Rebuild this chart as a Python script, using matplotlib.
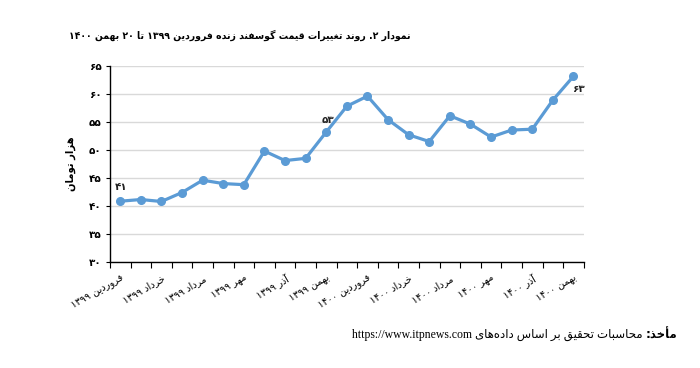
import re
import matplotlib
matplotlib.use("Agg")
import matplotlib.pyplot as plt
import numpy as np

# ---- data ----
months = ["فروردین ۱۳۹۹", "اردیبهشت ۱۳۹۹", "خرداد ۱۳۹۹", "تیر ۱۳۹۹", "مرداد ۱۳۹۹",
          "شهریور ۱۳۹۹", "مهر ۱۳۹۹", "آبان ۱۳۹۹", "آذر ۱۳۹۹", "دی ۱۳۹۹", "بهمن ۱۳۹۹",
          "اسفند ۱۳۹۹", "فروردین ۱۴۰۰", "اردیبهشت ۱۴۰۰", "خرداد ۱۴۰۰", "تیر ۱۴۰۰",
          "مرداد ۱۴۰۰", "شهریور ۱۴۰۰", "مهر ۱۴۰۰", "آبان ۱۴۰۰", "آذر ۱۴۰۰", "دی ۱۴۰۰",
          "بهمن ۱۴۰۰"]
price = [40.85, 41.15, 40.8, 42.4, 44.6, 44.0, 43.8, 49.8, 48.1, 48.5, 53.2, 57.8,
         59.6, 55.4, 52.7, 51.5, 56.1, 54.6, 52.3, 53.55, 53.7, 58.9, 63.15]
point_labels = {0: "۴۱", 10: "۵۳", 22: "۶۳"}
yticks = [30, 35, 40, 45, 50, 55, 60, 65]

title = "نمودار ۲. روند تغییرات قیمت گوسفند زنده فروردین ۱۳۹۹ تا ۲۰ بهمن ۱۴۰۰"
ylabel = "هزار تومان"
source_bold = "مأخذ:"
source_rest = "محاسبات تحقیق بر اساس داده‌های https://www.itpnews.com"

# ---- minimal Arabic-script shaping (matplotlib does no RTL layout) ----
DUAL = {"ب": 0xFE8F, "ت": 0xFE95, "ث": 0xFE99, "ج": 0xFE9D, "ح": 0xFEA1, "خ": 0xFEA5,
        "س": 0xFEB1, "ش": 0xFEB5, "ص": 0xFEB9, "ض": 0xFEBD, "ط": 0xFEC1, "ظ": 0xFEC5,
        "ع": 0xFEC9, "غ": 0xFECD, "ف": 0xFED1, "ق": 0xFED5, "ل": 0xFEDD, "م": 0xFEE1,
        "ن": 0xFEE5, "ه": 0xFEE9, "ک": 0xFB8E, "گ": 0xFB92, "ی": 0xFBFC, "پ": 0xFB56,
        "چ": 0xFB7A}
RIGHT = {"آ": 0xFE81, "أ": 0xFE83, "ا": 0xFE8D, "د": 0xFEA9, "ذ": 0xFEAB, "ر": 0xFEAD,
         "ز": 0xFEAF, "و": 0xFEED, "ژ": 0xFB8A}


def shape(s):
    out = []
    for i, ch in enumerate(s):
        if ch in DUAL:
            base, dual = DUAL[ch], True
        elif ch in RIGHT:
            base, dual = RIGHT[ch], False
        else:
            out.append(ch)
            continue
        prev = s[i - 1] if i > 0 else ""
        nxt = s[i + 1] if i + 1 < len(s) else ""
        jp = prev in DUAL
        jn = dual and (nxt in DUAL or nxt in RIGHT)
        off = 3 if jp and jn else 1 if jp else 2 if jn else 0
        out.append(chr(base + off))
    return "".join(out)


def rtl(s):
    s = shape(s).replace("\u200c", "")
    parts = re.split(r"([A-Za-z0-9\u06F0-\u06F9]+(?:[:/.]+[A-Za-z0-9\u06F0-\u06F9]+)*)", s)
    vis = [p if i % 2 else p[::-1] for i, p in enumerate(parts)]
    return "".join(vis[::-1])


fa_digits = str.maketrans("0123456789", "۰۱۲۳۴۵۶۷۸۹")

plt.rcParams['font.family'] = ['DejaVu Sans']

fig = plt.figure(figsize=(7, 3.68), dpi=100)
ax = fig.add_axes([0.157, 0.288, 0.677, 0.533])

x = np.arange(len(price))
ax.plot(x, price, color='#5B9BD5', lw=2.3, marker='o', ms=5.5, zorder=3)

offsets = {0: (1, 10), 10: (1, 9), 22: (3.5, -9)}
for i, txt in point_labels.items():
    ax.annotate(txt, (x[i], price[i]), xytext=offsets[i], textcoords='offset points',
                ha='center', va='center', fontsize=7.5, fontweight='bold', color='#222222')

ax.set_xlim(-0.5, len(price) - 0.5)
ax.set_ylim(30, 65)
ax.set_yticks(yticks)
ax.set_yticklabels([str(v).translate(fa_digits) for v in yticks],
                   fontsize=7.5, fontweight='bold')
ax.yaxis.grid(True, color='#d9d9d9', lw=1)
ax.set_axisbelow(True)

ax.set_xticks(np.arange(-0.5, len(price), 1))
ax.set_xticklabels([])
ax.set_xticks(x[::2], minor=True)
ax.set_xticklabels([rtl(m) for m in months[::2]], minor=True, rotation=30,
                   ha='right', rotation_mode='anchor', fontsize=7)
ax.tick_params(axis='x', which='major', length=4, direction='out', color='black')
ax.tick_params(axis='x', which='minor', length=0, pad=8)
ax.tick_params(axis='y', length=3, color='black', pad=3)

for s in ['top', 'right']:
    ax.spines[s].set_visible(False)
for s in ['left', 'bottom']:
    ax.spines[s].set_color('black')
    ax.spines[s].set_linewidth(1)

ax.set_ylabel(rtl(ylabel), fontsize=8, fontweight='bold', fontstretch='condensed',
              labelpad=9)

fig.text(0.343, 0.905, rtl(title), ha='center', va='center', fontsize=7.5,
         fontweight='bold', fontstretch='condensed')

t1 = fig.text(0.967, 0.09, rtl(source_bold), ha='right', va='center',
              fontsize=8.5, fontweight='bold')
fig.canvas.draw()
bb = t1.get_window_extent(fig.canvas.get_renderer())
fig.text(bb.x0 / fig.bbox.width - 0.004, 0.09, rtl(source_rest), ha='right', va='center',
         fontsize=8.5, family=['Liberation Serif', 'DejaVu Sans'])

fig.savefig('out.png', dpi=100)
